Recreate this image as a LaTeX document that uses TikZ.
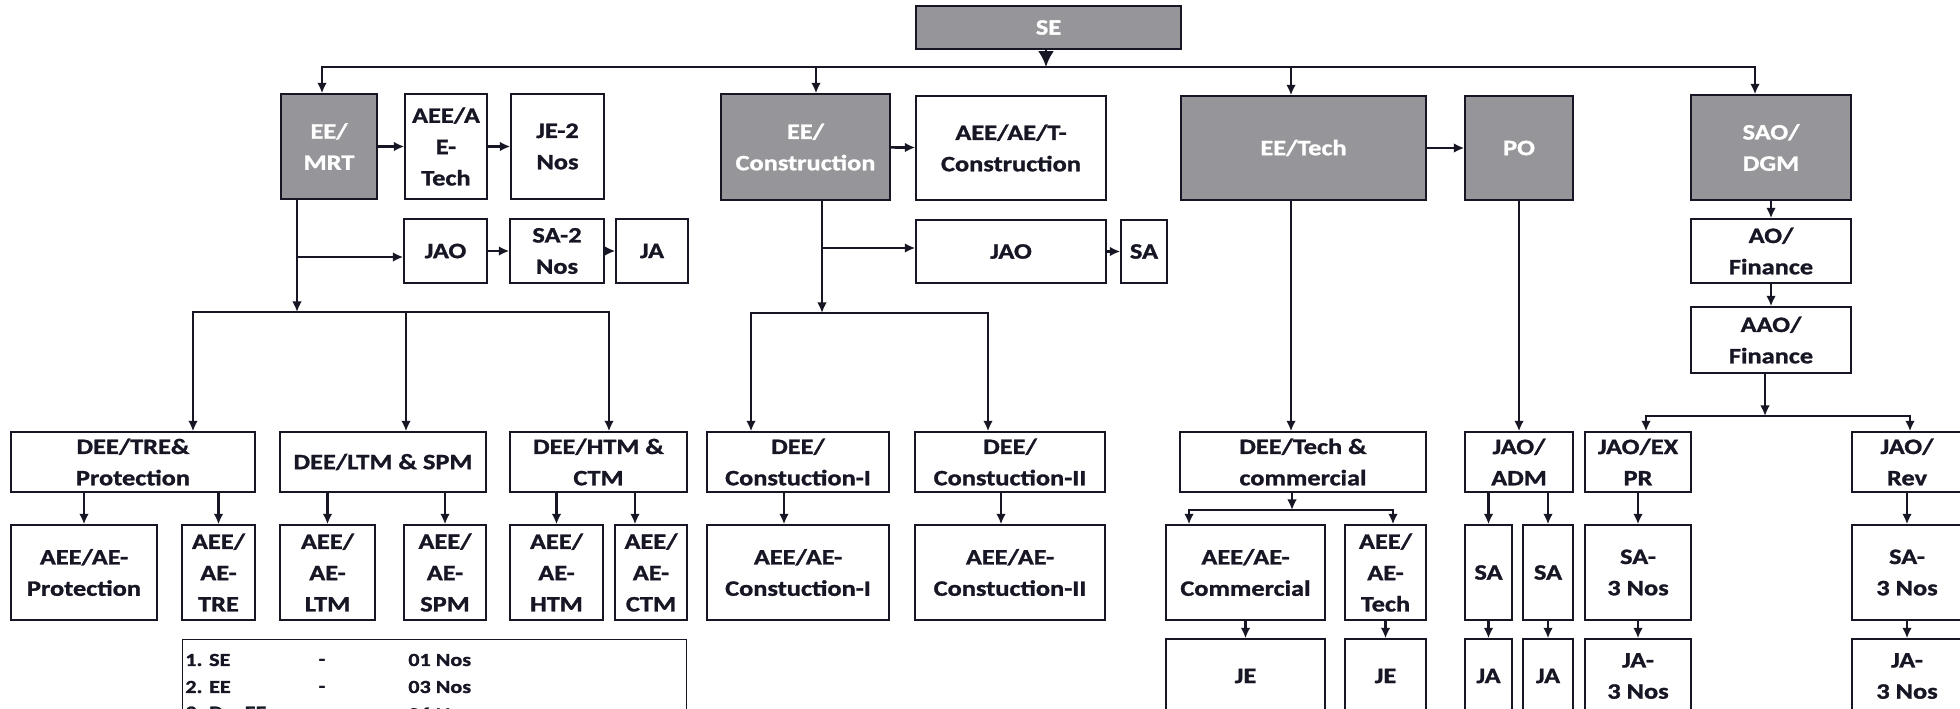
\documentclass[tikz,border=0pt]{standalone}
\usepackage{fontspec}
\setmainfont{Carlito}[FakeStretch=1.2, BoldFeatures={FakeBold=1.2}]
\usetikzlibrary{arrows.meta}
\usetikzlibrary{calc}
\definecolor{ink}{RGB}{22,22,36}
\definecolor{shade}{RGB}{150,150,154}

\begin{document}
\begin{tikzpicture}[x = 0.02cm, y = -0.02cm, font=\bfseries\fontsize{12.5}{17.8}\selectfont]
	\tikzstyle{plainBox}=[draw = ink, line width = 0.8pt, fill = white, text = ink, align = center, inner sep = 1pt]
	\tikzstyle{shadedBox}=[plainBox, fill = shade, text = white]
	\tikzstyle{link}=[draw = ink, line width = 1.5pt, -{Latex[length=6pt, width=5.5pt]}]
	\tikzstyle{bigLink}=[draw = ink, line width = 1.5pt, -{Latex[length=9pt, width=9pt]}]
	\tikzstyle{legendText}=[text = ink, inner sep = 0pt, font = \bfseries\fontsize{10.5}{12}\selectfont]
	\useasboundingbox (0,0) rectangle (1960,709);
	\node[shadedBox, minimum width = 5.30cm, minimum height = 0.86cm] (se) at (1048.5,27.5) {SE};
	\node[shadedBox, minimum width = 1.92cm, minimum height = 2.10cm] (mrt) at (329,146.5) {EE/\\MRT};
	\node[plainBox, minimum width = 1.64cm, minimum height = 2.10cm] (mrtaee) at (446,146.5) {AEE/A\\E-\\Tech};
	\node[plainBox, minimum width = 1.86cm, minimum height = 2.10cm] (mrtje) at (557.5,146.5) {JE-2\\Nos};
	\node[plainBox, minimum width = 1.66cm, minimum height = 1.28cm] (mrtjao) at (445.5,251) {JAO};
	\node[plainBox, minimum width = 1.88cm, minimum height = 1.28cm] (mrtsa) at (557,251) {SA-2\\Nos};
	\node[plainBox, minimum width = 1.44cm, minimum height = 1.28cm] (mrtja) at (652,251) {JA};
	\node[shadedBox, minimum width = 3.38cm, minimum height = 2.12cm] (con) at (805.5,147) {EE/\\Construction};
	\node[plainBox, minimum width = 3.80cm, minimum height = 2.08cm] (conaee) at (1011,148) {AEE/AE/T-\\Construction};
	\node[plainBox, minimum width = 3.80cm, minimum height = 1.26cm] (conjao) at (1011,251.5) {JAO};
	\node[plainBox, minimum width = 0.92cm, minimum height = 1.26cm] (consa) at (1144,251.5) {SA};
	\node[shadedBox, minimum width = 4.90cm, minimum height = 2.08cm] (tech) at (1303.5,148) {EE/Tech};
	\node[shadedBox, minimum width = 2.16cm, minimum height = 2.08cm] (po) at (1519,148) {PO};
	\node[shadedBox, minimum width = 3.20cm, minimum height = 2.10cm] (sao) at (1771,147.5) {SAO/\\DGM};
	\node[plainBox, minimum width = 3.20cm, minimum height = 1.28cm] (ao) at (1771,251) {AO/\\Finance};
	\node[plainBox, minimum width = 3.20cm, minimum height = 1.32cm] (aao) at (1771,340) {AAO/\\Finance};
	\node[plainBox, minimum width = 4.88cm, minimum height = 1.20cm] (tre) at (133,462) {DEE/TRE\&\\Protection};
	\node[plainBox, minimum width = 4.12cm, minimum height = 1.20cm] (ltm) at (383,462) {DEE/LTM \& SPM};
	\node[plainBox, minimum width = 3.54cm, minimum height = 1.20cm] (htm) at (598.5,462) {DEE/HTM \&\\CTM};
	\node[plainBox, minimum width = 3.64cm, minimum height = 1.20cm] (cone1) at (798,462) {DEE/\\Constuction-I};
	\node[plainBox, minimum width = 3.80cm, minimum height = 1.20cm] (cone2) at (1010,462) {DEE/\\Constuction-II};
	\node[plainBox, minimum width = 4.92cm, minimum height = 1.20cm] (dtech) at (1303,462) {DEE/Tech \&\\commercial};
	\node[plainBox, minimum width = 2.16cm, minimum height = 1.20cm] (adm) at (1519,462) {JAO/\\ADM};
	\node[plainBox, minimum width = 2.12cm, minimum height = 1.20cm] (expr) at (1638,462) {JAO/EX\\PR};
	\node[plainBox, minimum width = 2.20cm, minimum height = 1.20cm] (rev) at (1907,462) {JAO/\\Rev};
	\node[plainBox, minimum width = 2.92cm, minimum height = 1.90cm] (prot) at (84,572.5) {AEE/AE-\\Protection};
	\node[plainBox, minimum width = 1.46cm, minimum height = 1.90cm] (aetre) at (218.5,572.5) {AEE/\\AE-\\TRE};
	\node[plainBox, minimum width = 1.90cm, minimum height = 1.90cm] (aeltm) at (327.5,572.5) {AEE/\\AE-\\LTM};
	\node[plainBox, minimum width = 1.64cm, minimum height = 1.90cm] (aespm) at (445,572.5) {AEE/\\AE-\\SPM};
	\node[plainBox, minimum width = 1.86cm, minimum height = 1.90cm] (aehtm) at (556.5,572.5) {AEE/\\AE-\\HTM};
	\node[plainBox, minimum width = 1.44cm, minimum height = 1.90cm] (aectm) at (651,572.5) {AEE/\\AE-\\CTM};
	\node[plainBox, minimum width = 3.64cm, minimum height = 1.90cm] (aecon1) at (798,572.5) {AEE/AE-\\Constuction-I};
	\node[plainBox, minimum width = 3.80cm, minimum height = 1.90cm] (aecon2) at (1010,572.5) {AEE/AE-\\Constuction-II};
	\node[plainBox, minimum width = 3.18cm, minimum height = 1.90cm] (comm) at (1245.5,572.5) {AEE/AE-\\Commercial};
	\node[plainBox, minimum width = 1.62cm, minimum height = 1.90cm] (aetech) at (1385.5,572.5) {AEE/\\AE-\\Tech};
	\node[plainBox, minimum width = 0.94cm, minimum height = 1.90cm] (sa1) at (1488.5,572.5) {SA};
	\node[plainBox, minimum width = 1.00cm, minimum height = 1.90cm] (sa2) at (1548,572.5) {SA};
	\node[plainBox, minimum width = 2.12cm, minimum height = 1.90cm] (sa3a) at (1638,572.5) {SA-\\3 Nos};
	\node[plainBox, minimum width = 2.20cm, minimum height = 1.90cm] (sa3b) at (1907,572.5) {SA-\\3 Nos};
	\node[plainBox, minimum width = 3.18cm, minimum height = 1.48cm] (je1) at (1245.5,676) {JE};
	\node[plainBox, minimum width = 1.62cm, minimum height = 1.48cm] (je2) at (1385.5,676) {JE};
	\node[plainBox, minimum width = 0.94cm, minimum height = 1.48cm] (ja1) at (1488.5,676) {JA};
	\node[plainBox, minimum width = 1.00cm, minimum height = 1.48cm] (ja2) at (1548,676) {JA};
	\node[plainBox, minimum width = 2.12cm, minimum height = 1.48cm] (ja3a) at (1638,676) {JA-\\3 Nos};
	\node[plainBox, minimum width = 2.20cm, minimum height = 1.48cm] (ja3b) at (1907,676) {JA-\\3 Nos};
	\node[plainBox, anchor = north west, minimum width = 10.08cm, minimum height = 2.20cm] (legend) at (182,639) {};
	\foreach \idx/\grade/\cnt [count=\i] in {1/SE/01, 2/EE/03, 3/Dy. EE/06} {
		\node[legendText, anchor = west] (grade\i) at (185,{660+27*(\i-1)}) {\idx. \grade};
		\node[legendText] (dash\i) at (322,{662+27*(\i-1)}) {-};
		\node[legendText, anchor = west] (count\i) at (408,{660+27*(\i-1)}) {\cnt\ Nos};
	}
	\coordinate (busL) at (322,67);
	\coordinate (busSE) at (1046,67);
	\coordinate (busCon) at (816,67);
	\coordinate (busTech) at (1291,67);
	\coordinate (busR) at (1755,67);
	\draw[bigLink] (se.south -| busSE) -- (busSE);
	\draw[link] (busSE) -| (mrt.north -| busL);
	\draw[link] (busSE) -| (sao.north -| busR);
	\draw[link] (busCon) -- (con.north -| busCon);
	\draw[link] (busTech) -- (tech.north -| busTech);
	\coordinate (mrtBr) at (297,257);
	\coordinate (mrtBus) at (297,312);
	\coordinate (mrtBusL) at (193,312);
	\coordinate (mrtBusM) at (406,312);
	\coordinate (mrtBusR) at (609,312);
	\draw[link] (mrt) -- (mrtaee);
	\draw[link] (mrtaee) -- (mrtje);
	\draw[link] (mrt.south -| mrtBus) -- (mrtBus);
	\draw[link] (mrtBr) -- (mrtBr -| mrtjao.west);
	\draw[link] (mrtjao) -- (mrtsa);
	\draw[link] (mrtsa) -- (mrtja);
	\draw[link] (mrtBus) -| (tre.north -| mrtBusL);
	\draw[link] (mrtBus) -| (htm.north -| mrtBusR);
	\draw[link] (mrtBusM) -- (ltm.north -| mrtBusM);
	\coordinate (conBr) at (822,248);
	\coordinate (conBus) at (822,313);
	\coordinate (conBusL) at (751,313);
	\coordinate (conBusR) at (988,313);
	\draw[link] (con) -- (conaee);
	\draw[link] (con.south -| conBus) -- (conBus);
	\draw[link] (conBr) -- (conBr -| conjao.west);
	\draw[link] (conjao) -- (consa);
	\draw[link] (conBus) -| (cone1.north -| conBusL);
	\draw[link] (conBus) -| (cone2.north -| conBusR);
	\draw[link] (tech) -- (po);
	\draw[link] (tech.south -| busTech) -- (dtech.north -| busTech);
	\coordinate (dtBus) at (1292,510);
	\coordinate (dtBusL) at (1189,510);
	\coordinate (dtBusR) at (1393,510);
	\draw[link] (dtech.south -| dtBus) -- (dtBus);
	\draw[link] (dtBus) -| (comm.north -| dtBusL);
	\draw[link] (dtBus) -| (aetech.north -| dtBusR);
	\draw[link] (comm) -- (je1);
	\draw[link] (aetech) -- (je2);
	\draw[link] (po) -- (adm);
	\draw[link] (adm.south -| sa1) -- (sa1);
	\draw[link] (adm.south -| sa2) -- (sa2);
	\draw[link] (sa1) -- (ja1);
	\draw[link] (sa2) -- (ja2);
	\draw[link] (sao) -- (ao);
	\draw[link] (ao) -- (aao);
	\coordinate (aaoBus) at (1765,416);
	\coordinate (aaoBusL) at (1646,416);
	\coordinate (aaoBusR) at (1910,416);
	\draw[link] (aao.south -| aaoBus) -- (aaoBus);
	\draw[link] (aaoBus) -| (expr.north -| aaoBusL);
	\draw[link] (aaoBus) -| (rev.north -| aaoBusR);
	\draw[link] (expr) -- (sa3a);
	\draw[link] (sa3a) -- (ja3a);
	\draw[link] (rev) -- (sa3b);
	\draw[link] (sa3b) -- (ja3b);
	\draw[link] (tre.south -| prot) -- (prot);
	\draw[link] (tre.south -| aetre) -- (aetre);
	\draw[link] (ltm.south -| aeltm) -- (aeltm);
	\draw[link] (ltm.south -| aespm) -- (aespm);
	\draw[link] (htm.south -| aehtm) -- (aehtm);
	\draw[link] ($(htm.south -| aectm)+(-16,0)$) -- ($(aectm.north)+(-16,0)$);
	\draw[link] ($(cone1.south)+(-14,0)$) -- ($(aecon1.north)+(-14,0)$);
	\draw[link] ($(cone2.south)+(-9,0)$) -- ($(aecon2.north)+(-9,0)$);
\end{tikzpicture}
\end{document}
